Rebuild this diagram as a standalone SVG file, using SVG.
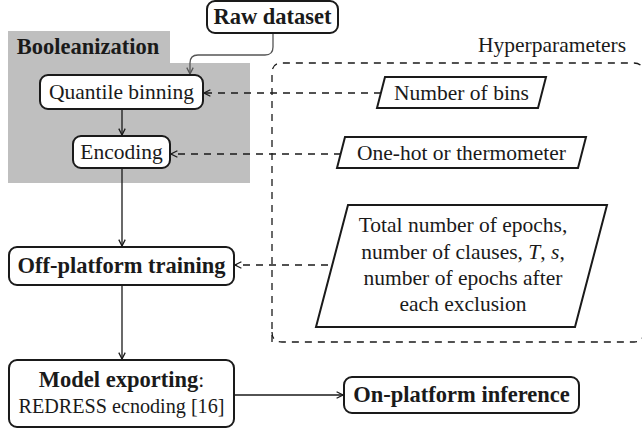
<svg xmlns="http://www.w3.org/2000/svg" width="642" height="429" viewBox="0 0 642 429">
<style>
text{font-family:'Liberation Serif','Times New Roman',serif;font-size:21.5px;fill:#1a1a1a;text-anchor:middle}
.b{font-weight:bold;font-size:22.5px}
.node{fill:#fff;stroke:#1a1a1a;stroke-width:2}
.conn{fill:none;stroke:#1a1a1a;stroke-width:1.3}
.dash{fill:none;stroke:#1a1a1a;stroke-width:1.3;stroke-dasharray:7,6}
</style>
<defs>
<marker id="ah" viewBox="0 0 10 10" refX="9" refY="5" markerWidth="8" markerHeight="8" markerUnits="userSpaceOnUse" orient="auto">
<path d="M1,1 L9,5 L1,9" fill="none" stroke="#1a1a1a" stroke-width="1.6"/>
</marker>
<marker id="ahg" viewBox="0 0 10 10" refX="9" refY="5" markerWidth="8" markerHeight="8" markerUnits="userSpaceOnUse" orient="auto">
<path d="M1,1 L9,5 L1,9" fill="none" stroke="#555" stroke-width="1.6"/>
</marker>
</defs>
<g id="booleanization">
<path d="M8,31 H170 V63 H250 V183 H8 Z" fill="#bfbfbf"/>
<text class="b" x="88" y="54">Booleanization</text>
</g>
<g id="hyperparameters">
<path class="dash" d="M272,342 V73 Q272,63 282,63 H634 Q640,63 643,68"/>
<path class="dash" d="M272,332 Q272,342 282,342 H634 Q640,342 643,337"/>
<text x="552" y="52">Hyperparameters</text>
</g>
<g id="connectors">
<path d="M273,33 V47 Q273,55 265,55 H198 Q190,55 190,63 V74" fill="none" stroke="#555" stroke-width="1.3" marker-end="url(#ahg)"/>
<path class="conn" d="M122,109 V135" marker-end="url(#ah)"/>
<path class="conn" d="M122,168 V246" marker-end="url(#ah)"/>
<path class="conn" d="M122,285 V359" marker-end="url(#ah)"/>
<path class="conn" d="M234,395 H343" marker-end="url(#ah)"/>
<path class="dash" d="M381,93 H204" marker-end="url(#ah)"/>
<path class="dash" d="M341,154 H171" marker-end="url(#ah)"/>
<path class="dash" d="M328,265 H235" marker-end="url(#ah)"/>
</g>
<g id="raw-dataset">
<rect class="node" x="207" y="1" width="131" height="32" rx="8"/>
<text class="b" x="272.5" y="24">Raw dataset</text>
</g>
<g id="quantile-binning">
<rect class="node" x="40" y="75" width="163" height="34" rx="8"/>
<text x="121.5" y="99">Quantile binning</text>
</g>
<g id="encoding">
<rect class="node" x="73" y="136" width="97" height="32" rx="8"/>
<text x="121.5" y="159">Encoding</text>
</g>
<g id="off-platform-training">
<rect class="node" x="9" y="247" width="225" height="38" rx="8"/>
<text class="b" x="121.5" y="273">Off-platform training</text>
</g>
<g id="model-exporting">
<rect class="node" x="9" y="360" width="225" height="67" rx="8"/>
<text x="121.5" y="387"><tspan class="b">Model exporting</tspan>:</text>
<text x="121.5" y="413" textLength="206" lengthAdjust="spacingAndGlyphs">REDRESS ecnoding [16]</text>
</g>
<g id="on-platform-inference">
<rect class="node" x="344" y="377" width="235" height="36" rx="8"/>
<text class="b" x="461.5" y="402">On-platform inference</text>
</g>
<g id="number-of-bins">
<path class="node" d="M385,77 H546 L538,108 H377 Z"/>
<text x="461.5" y="100">Number of bins</text>
</g>
<g id="one-hot">
<path class="node" d="M345,137 H586 L578,168 H337 Z"/>
<text x="461.5" y="160">One-hot or thermometer</text>
</g>
<g id="training-params">
<path class="node" d="M348,205 H607 L575,327 H316 Z"/>
<text x="463" y="232">Total number of epochs,</text>
<text x="463" y="259">number of clauses, <tspan font-style="italic">T</tspan>, <tspan font-style="italic">s</tspan>,</text>
<text x="463" y="285">number of epochs after</text>
<text x="463" y="311">each exclusion</text>
</g>
</svg>
